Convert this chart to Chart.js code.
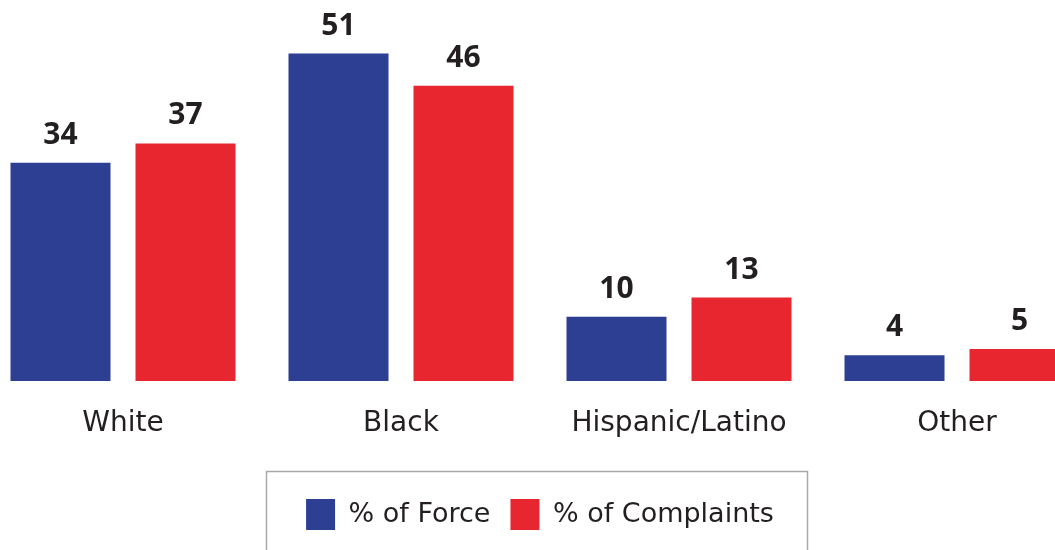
<!DOCTYPE html>
<html>
<head>
<meta charset="utf-8">
<script src="https://cdn.jsdelivr.net/npm/chart.js@4/dist/chart.umd.min.js"></script>
<style>
  html, body { margin: 0; padding: 0; background: #fff; overflow: hidden; }
  #wrap { position: absolute; left: -16.5px; top: 0; width: 1112px; height: 550px; }
</style>
</head>
<body>
<div id="wrap"><canvas id="chart"></canvas></div>
<script>
const categories = ['White', 'Black', 'Hispanic/Latino', 'Other'];
const forceValues = [34, 51, 10, 4];
const complaintValues = [37, 46, 13, 5];
const seriesNames = ['% of Force', '% of Complaints'];

const FONT = "'DejaVu Sans', sans-serif";
const NUM_FONT = "'Open Sans', sans-serif";
const TEXT = '#231f20';

// value numbers above each bar
const valueLabels = {
  id: 'valueLabels',
  afterDatasetsDraw(chart) {
    const ctx = chart.ctx;
    ctx.save();
    ctx.font = `bold 30px ${NUM_FONT}`;
    ctx.fillStyle = TEXT;
    ctx.textAlign = 'center';
    ctx.textBaseline = 'alphabetic';
    chart.data.datasets.forEach((ds, i) => {
      chart.getDatasetMeta(i).data.forEach((bar, j) => {
        ctx.fillText(ds.data[j], bar.x, bar.y - 19);
      });
    });
    ctx.restore();
  }
};

// grey frame round the legend
const legendFrame = {
  id: 'legendFrame',
  afterDraw(chart) {
    const lg = chart.legend;
    if (!lg || !lg.legendHitBoxes.length) return;
    const boxes = lg.legendHitBoxes;
    const left = boxes[0].left - 40;
    const right = boxes[boxes.length - 1].left + boxes[boxes.length - 1].width + 33;
    const top = lg.top - 8;
    const ctx = chart.ctx;
    ctx.save();
    ctx.strokeStyle = '#a7a9ac';
    ctx.lineWidth = 1.5;
    ctx.beginPath();
    ctx.moveTo(Math.round(left) + 0.5, chart.height + 20);
    ctx.lineTo(Math.round(left) + 0.5, Math.round(top) + 0.5);
    ctx.lineTo(Math.round(right) + 0.5, Math.round(top) + 0.5);
    ctx.lineTo(Math.round(right) + 0.5, chart.height + 20);
    ctx.stroke();
    ctx.restore();
  }
};

new Chart(document.getElementById('chart'), {
  type: 'bar',
  data: {
    labels: categories,
    datasets: [
      { label: seriesNames[0], data: forceValues, backgroundColor: '#2c3f93' },
      { label: seriesNames[1], data: complaintValues, backgroundColor: '#e8262f' }
    ]
  },
  options: {
    responsive: true,
    maintainAspectRatio: false,
    animation: false,
    layout: { padding: { top: 0, left: 0, right: 0, bottom: 10 } },
    categoryPercentage: 250 / 278,
    barPercentage: 0.8,
    scales: {
      x: {
        grid: { display: false, drawTicks: false },
        border: { display: false },
        ticks: { color: TEXT, font: { family: FONT, size: 28 }, padding: 26 },
        afterFit(scale) { scale.height = 98; }
      },
      y: {
        display: false,
        min: 0,
        max: 59.35
      }
    },
    plugins: {
      tooltip: { enabled: false },
      legend: {
        position: 'bottom',
        labels: {
          boxWidth: 29,
          boxHeight: 31,
          padding: 20,
          color: TEXT,
          font: { family: FONT, size: 27 }
        }
      }
    }
  },
  plugins: [valueLabels, legendFrame]
});
</script>
</body>
</html>
